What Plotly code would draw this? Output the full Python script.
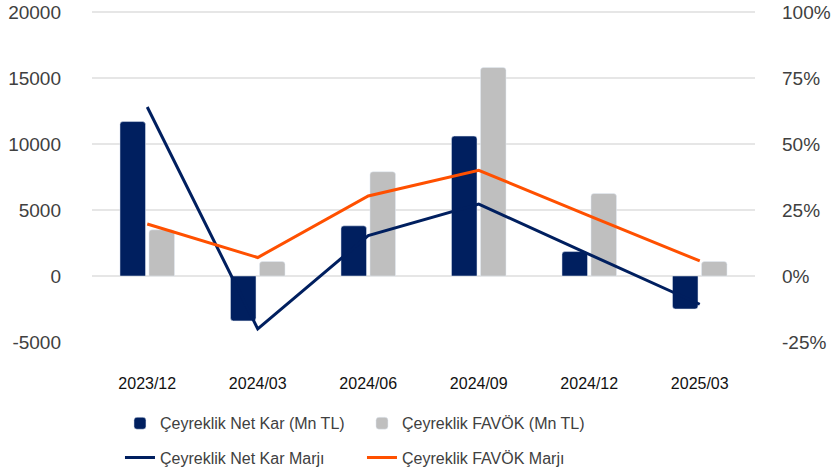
import plotly.graph_objects as go

categories = ["2023/12", "2024/03", "2024/06", "2024/09", "2024/12", "2025/03"]
net_kar = [11700, -3400, 3800, 10600, 1850, -2500]
favok = [3500, 1100, 7900, 15800, 6250, 1100]
net_kar_marji = [0.64, -0.20, 0.153, 0.272, 0.082, -0.107]
favok_marji = [0.197, 0.07, 0.303, 0.40, 0.228, 0.057]

left_ticks = [-5000, 0, 5000, 10000, 15000, 20000]
left_labels = ["-5000", "0", "5000", "10000", "15000", "20000"]
right_ticks = [-0.25, 0, 0.25, 0.5, 0.75, 1.0]
right_labels = ["-25%", "0%", "25%", "50%", "75%", "100%"]

NAVY = "#001F5F"
GRAY = "#BFBFBF"
ORANGE = "#FF5000"
FONT = "Liberation Sans, Arial, sans-serif"

fig = go.Figure()
fig.add_trace(go.Bar(x=categories, y=net_kar, name="Çeyreklik Net Kar (Mn TL)",
                     marker=dict(color=NAVY, cornerradius=3), legend="legend"))
fig.add_trace(go.Bar(x=categories, y=favok, name="Çeyreklik FAVÖK (Mn TL)",
                     marker=dict(color=GRAY, cornerradius=3), legend="legend"))
fig.add_trace(go.Scatter(x=categories, y=net_kar_marji, name="Çeyreklik Net Kar Marjı",
                         mode="lines", line=dict(color=NAVY, width=3), yaxis="y2", legend="legend2"))
fig.add_trace(go.Scatter(x=categories, y=favok_marji, name="Çeyreklik FAVÖK Marjı",
                         mode="lines", line=dict(color=ORANGE, width=3), yaxis="y2", legend="legend2"))

legend_common = dict(orientation="h", xanchor="left", yanchor="middle",
                     font=dict(family=FONT, size=16, color="#404040"),
                     bgcolor="rgba(0,0,0,0)", entrywidth=197, entrywidthmode="pixels",
                     traceorder="normal")

fig.update_layout(
    width=831, height=474,
    margin=dict(l=92, r=76, t=10, b=132, autoexpand=False),
    paper_bgcolor="white", plot_bgcolor="white",
    barmode="group", bargap=0.475, bargroupgap=0.12,
    font=dict(family=FONT, size=16, color="#404040"),
    xaxis=dict(showgrid=False, showline=False, zeroline=False, automargin=False,
               tickfont=dict(family=FONT, size=16, color="#111111"),
               ticklabelstandoff=30),
    yaxis=dict(range=[-5000, 20150], tickvals=left_ticks, ticktext=left_labels,
               showgrid=True, gridcolor="#E6E6E6", gridwidth=2, zeroline=False,
               showline=False, automargin=False,
               tickfont=dict(family=FONT, size=19, color="#404040"),
               ticklabelstandoff=30),
    yaxis2=dict(range=[-0.25, 1.0075], tickvals=right_ticks, ticktext=right_labels,
                overlaying="y", side="right", showgrid=False, automargin=False,
                zeroline=False, showline=False,
                tickfont=dict(family=FONT, size=19, color="#404040"),
                ticklabelstandoff=26),
    legend=dict(x=0.0422, y=-0.245, **legend_common),
    legend2=dict(x=0.0422, y=-0.348, **legend_common),
    showlegend=True,
)

fig.write_html("out.html", config={"displayModeBar": False},
               post_script="document.body.style.margin='0';document.body.style.overflow='hidden';")
